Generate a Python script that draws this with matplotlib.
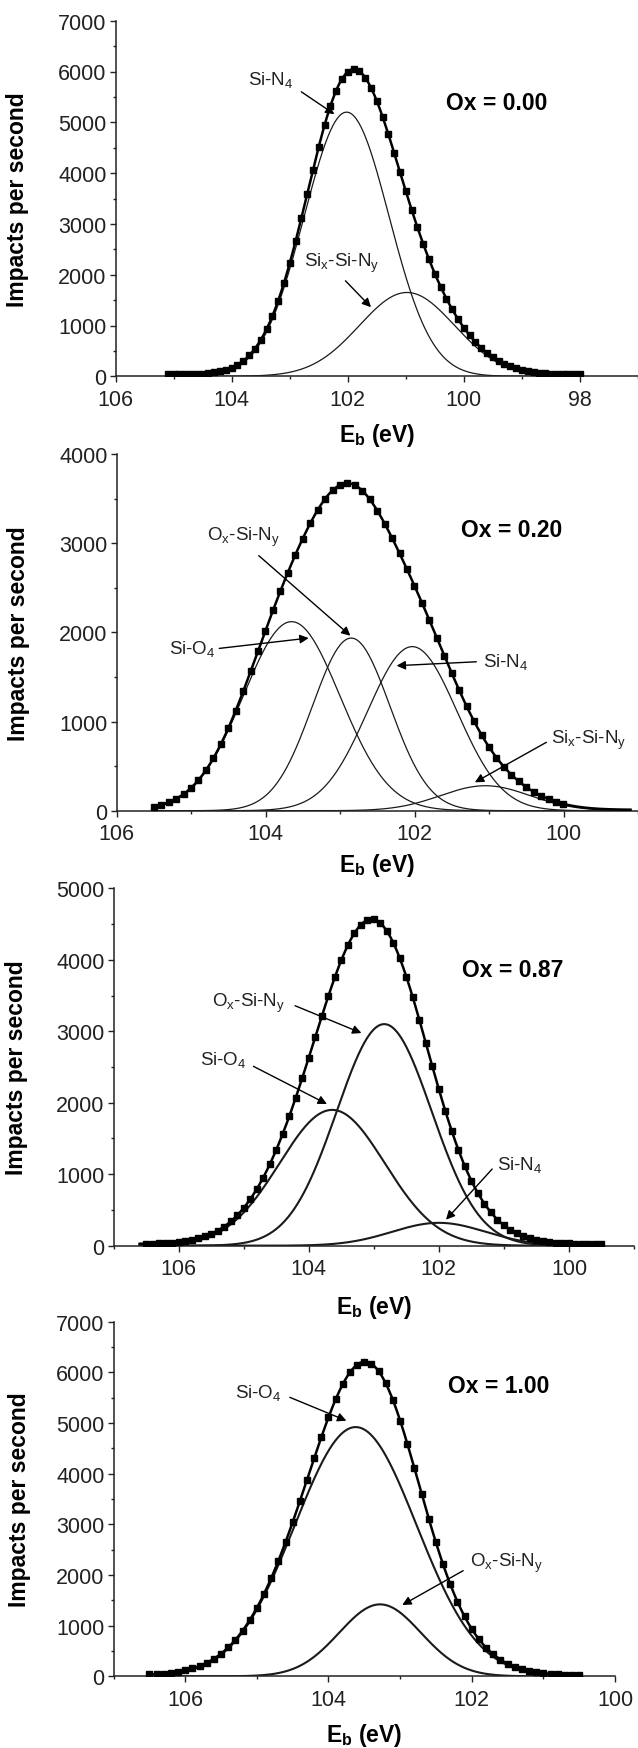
import numpy as np
import matplotlib
matplotlib.use("Agg")
import matplotlib.pyplot as plt
from matplotlib.ticker import MultipleLocator

plt.rcParams['font.family'] = ['Liberation Sans', 'DejaVu Sans']
plt.rcParams['mathtext.fontset'] = 'custom'
plt.rcParams['mathtext.rm'] = 'Liberation Sans'
plt.rcParams['mathtext.it'] = 'Liberation Sans:italic'
plt.rcParams['mathtext.bf'] = 'Liberation Sans:bold'

# ---------------- data ----------------
ox_labels = ["Ox = 0.00", "Ox = 0.20", "Ox = 0.87", "Ox = 1.00"]

# Panel 1 : Ox = 0.00  components: Si-N4, Six-Si-Ny
p1_center = [102.02, 100.98]
p1_height = [5200, 1650]
p1_sigma = [0.73, 0.82]
p1_background = 35
p1_data_range = [105.1, 98.0]
p1_comp_range = [105.1, 98.0]

# Panel 2 : Ox = 0.20  components: Si-O4, Ox-Si-Ny, Si-N4, Six-Si-Ny
p2_center = [103.65, 102.85, 102.03, 101.05]
p2_height = [2120, 1936, 1840, 280]
p2_sigma = [0.65, 0.52, 0.60, 0.60]
p2_background = 10
p2_data_range = [105.5, 100.0]
p2_comp_range = [105.5, 99.1]

# Panel 3 : Ox = 0.87  components: Si-O4, Ox-Si-Ny, Si-N4
p3_center = [103.64, 102.84, 102.0]
p3_height = [1900, 3100, 320]
p3_sigma = [0.81, 0.73, 0.72]
p3_background = 25
p3_data_range = [106.5, 99.5]
p3_comp_range = [106.6, 99.5]

# Panel 4 : Ox = 1.00  components: Si-O4, Ox-Si-Ny
p4_center = [103.62, 103.28]
p4_height = [4920, 1420]
p4_sigma = [0.85, 0.57]
p4_background = 20
p4_data_range = [106.5, 100.5]
p4_comp_range = [106.5, 100.5]

energy_step = 0.1

# axis settings
xlims = [(106, 97), (106, 99), (107, 99), (107, 100)]
ymaxes = [7000, 4000, 5000, 7000]

# labels
SiN4 = r"Si-N$_\mathregular{4}$"
SiO4 = r"Si-O$_\mathregular{4}$"
SixSiNy = r"Si$_\mathregular{x}$-Si-N$_\mathregular{y}$"
OxSiNy = r"O$_\mathregular{x}$-Si-N$_\mathregular{y}$"

# ---------------- figure ----------------
W, H = 638, 1749
fig = plt.figure(figsize=(W / 100, H / 100), dpi=100)

# axes boxes in pixels: left, top, right, bottom
boxes = [(115.6, 21.7, 638.0, 377.3),
         (116.5, 455.0, 638.0, 811.7),
         (113.6, 889.3, 634.0, 1246.7),
         (113.6, 1322.7, 615.0, 1677.3)]

panels = [
    (p1_center, p1_height, p1_sigma, p1_background, p1_data_range, p1_comp_range, 5.0, 0.9),
    (p2_center, p2_height, p2_sigma, p2_background, p2_data_range, p2_comp_range, 4.6, 0.9),
    (p3_center, p3_height, p3_sigma, p3_background, p3_data_range, p3_comp_range, 4.0, 1.5),
    (p4_center, p4_height, p4_sigma, p4_background, p4_data_range, p4_comp_range, 4.0, 1.5),
]

# annotation layout: (text, text_xy, arrow_start, arrow_end)
annotations = [
    [(SiN4, (103.72, 5850), (102.80, 5600), (102.23, 5160)),
     (SixSiNy, (102.76, 2250), (102.04, 1880), (101.60, 1360))],
    [(OxSiNy, (104.78, 3080), (104.09, 2860), (102.86, 1962)),
     (SiO4, (105.29, 1830), (104.62, 1820), (103.42, 1936)),
     (SiN4, (101.08, 1680), (101.17, 1670), (102.24, 1626)),
     (SixSiNy, (100.17, 800), (100.23, 767), (101.19, 318))],
    [(OxSiNy, (105.49, 3400), (104.21, 3357), (103.19, 2975)),
     (SiO4, (105.67, 2610), (104.85, 2509), (103.72, 1982)),
     (SiN4, (101.10, 1140), (101.18, 1073), (101.89, 364))],
    [(SiO4, (105.30, 5620), (104.54, 5507), (103.75, 5046)),
     (OxSiNy, (102.03, 2250), (102.12, 2085), (102.97, 1407))],
]
ox_pos = [(99.44, 5394), (100.70, 3158), (100.86, 3870), (101.62, 5736)]
xlabel_y = [-0.125, -0.113, -0.133, -0.127]


def gauss(e, c, h, s):
    return h * np.exp(-(e - c) ** 2 / (2 * s ** 2))


for i, (box, panel) in enumerate(zip(boxes, panels)):
    l, t, r, b = box
    ax = fig.add_axes([l / W, 1 - b / H, (r - l) / W, (b - t) / H])
    centers, heights, sigmas, bg, drange, crange, msize, clw = panel

    e_data = np.arange(drange[0], drange[1] - 1e-9, -energy_step)
    e_comp = np.linspace(crange[0], crange[1], 600)

    total_line = np.full_like(e_comp, bg, dtype=float)
    total_data = np.full_like(e_data, bg, dtype=float)
    for c, h, s in zip(centers, heights, sigmas):
        comp = gauss(e_comp, c, h, s)
        total_line += comp
        total_data += gauss(e_data, c, h, s)
        ax.plot(e_comp, comp, color='#1a1a1a', lw=clw, zorder=2)

    ax.plot(e_comp, total_line, color='black', lw=1.8, zorder=3)
    ax.plot(e_data, total_data, ls='none', marker='s', ms=msize,
            color='black', zorder=4)

    ax.set_xlim(*xlims[i])
    ax.set_ylim(0, ymaxes[i])
    ax.xaxis.set_major_locator(MultipleLocator(2))
    ax.xaxis.set_minor_locator(MultipleLocator(1))
    ax.yaxis.set_major_locator(MultipleLocator(1000))
    ax.yaxis.set_minor_locator(MultipleLocator(500))
    for sp in ['top', 'right']:
        ax.spines[sp].set_visible(False)
    for sp in ['left', 'bottom']:
        ax.spines[sp].set_linewidth(1.1)
        ax.spines[sp].set_color('#222222')
    ax.tick_params(which='major', direction='out', length=4.5, width=1.0,
                   colors='#222222', labelsize=15.5)
    ax.tick_params(which='minor', direction='out', length=2.5, width=1.0,
                   colors='#222222')
    ax.tick_params(axis='x', which='major', pad=4.5)
    ax.tick_params(axis='y', which='major', pad=2.0)

    ax.set_ylabel("Impacts per second", fontsize=16.5, fontweight='bold')
    ax.yaxis.set_label_coords(-0.165, 0.5)
    ax.set_xlabel(r"E$_\mathbf{b}$ (eV)", fontsize=16.5, fontweight='bold')
    ax.xaxis.set_label_coords(0.5, xlabel_y[i])

    ax.text(ox_pos[i][0], ox_pos[i][1], ox_labels[i], fontsize=16.5,
            fontweight='bold', ha='center', va='center', color='black')

    for txt, txy, a0, a1 in annotations[i]:
        ax.text(txy[0], txy[1], txt, fontsize=13.5, ha='left', va='center',
                color='#222222')
        ax.annotate("", xy=a1, xytext=a0,
                    arrowprops=dict(arrowstyle='-|>', color='black', lw=1.0,
                                    mutation_scale=13, shrinkA=0, shrinkB=0))

fig.savefig("out.png", dpi=100, facecolor='white')
